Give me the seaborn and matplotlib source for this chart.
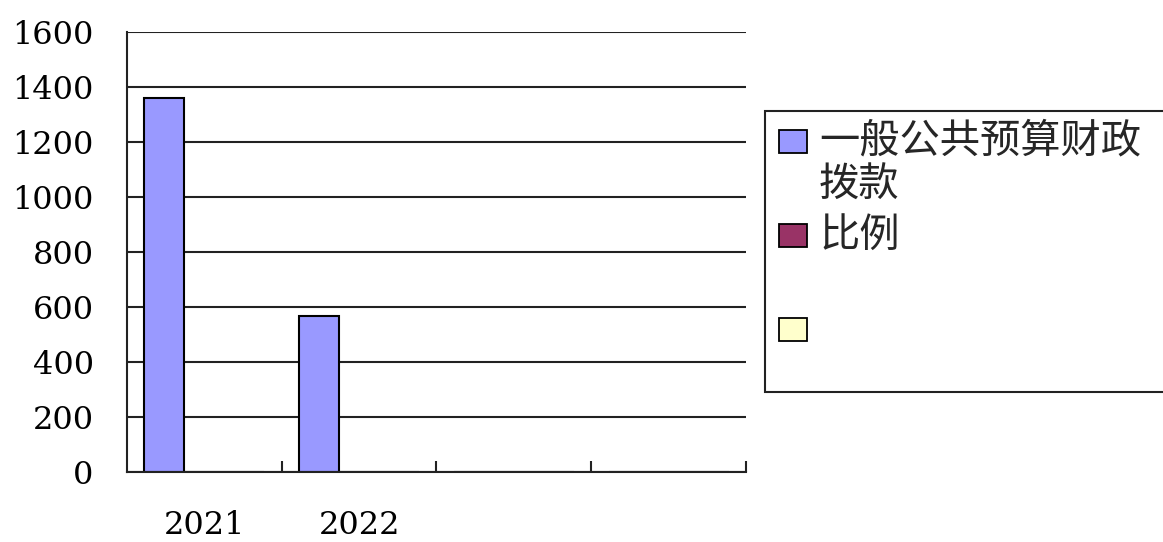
import numpy as np
import pandas as pd
import seaborn as sns
import matplotlib.pyplot as plt
from matplotlib.patches import Rectangle

# four category slots on the x axis, only the first two are labelled
slots = ["s1", "s2", "s3", "s4"]
slot_labels = ["2021", "2022", "", ""]

series = ["一般公共预算财政拨款", "比例", " "]
legend_lines = [["一般公共预算财政", "拨款"], ["比例", ""], [""]]
colors = ["#9999FF", "#993366", "#FFFFCC"]

funding = [1360, 567, 0, 0]
ratio = [0, 0, 0, 0]
blank = [0, 0, 0, 0]

y_ticks = [0, 200, 400, 600, 800, 1000, 1200, 1400, 1600]

rows = []
for name, vals in zip(series, [funding, ratio, blank]):
    for s, v in zip(slots, vals):
        rows.append([s, name, v])
df = pd.DataFrame(rows, columns=["slot", "series", "value"])

sns.set_style("white")
plt.rcParams['font.family'] = ['DejaVu Serif', 'Noto Sans CJK SC']

W, H = 1163, 542
fig = plt.figure(figsize=(W / 100, H / 100), dpi=100)
ax = fig.add_axes([127 / W, 1 - 472 / H, (746 - 127) / W, (472 - 32) / H])

sns.barplot(data=df, x="slot", y="value", hue="series", order=slots,
            hue_order=series, palette=dict(zip(series, colors)),
            width=120 / 155, saturation=1, edgecolor="black", linewidth=1.5,
            legend=False, ax=ax)

ax.set_xlim(-0.5, 3.5)
ax.set_ylim(0, 1600)
ax.set_yticks(y_ticks)
ax.set_yticklabels([str(v) for v in y_ticks])
ax.set_xticks(range(len(slots)))
ax.set_xticklabels(slot_labels)
ax.set_xticks([0.5, 1.5, 2.5, 3.5], minor=True)
ax.set_xlabel("")
ax.set_ylabel("")

ax.tick_params(axis="y", left=False, length=0, pad=24, labelsize=23, colors="black")
ax.tick_params(axis="x", which="major", bottom=False, length=0, pad=27, labelsize=23, colors="black")
ax.tick_params(axis="x", which="minor", bottom=True, direction="in", length=8, width=1.5, color="#222222")

ax.yaxis.grid(True, color="#222222", linewidth=1.5)
ax.set_axisbelow(True)
for side in ["top", "right"]:
    ax.spines[side].set_visible(False)
for side in ["left", "bottom"]:
    ax.spines[side].set_color("#222222")
    ax.spines[side].set_linewidth(1.5)

# legend box, drawn by hand so the swatch sits on the first text line
def fx(px):
    return px / W

def fy(py):
    return 1 - py / H

fig.patches.append(Rectangle((fx(765), fy(392)), fx(1200) - fx(765), fy(111) - fy(392),
                             transform=fig.transFigure, facecolor="white",
                             edgecolor="#222222", linewidth=1.5, clip_on=False))
line_y = 141
for lines, color in zip(legend_lines, colors):
    fig.patches.append(Rectangle((fx(779), fy(line_y + 11.5)), fx(28), 23 / H,
                                 transform=fig.transFigure, facecolor=color,
                                 edgecolor="black", linewidth=1.3))
    for i, txt in enumerate(lines):
        fig.text(fx(819), fy(line_y + i * 44), txt, fontsize=29,
                 family=['Noto Sans CJK SC', 'DejaVu Sans'], va="center", ha="left")
    line_y += 44 * len(lines) + 6 if len(lines) > 1 else 44

fig.savefig("out.png", dpi=100)
